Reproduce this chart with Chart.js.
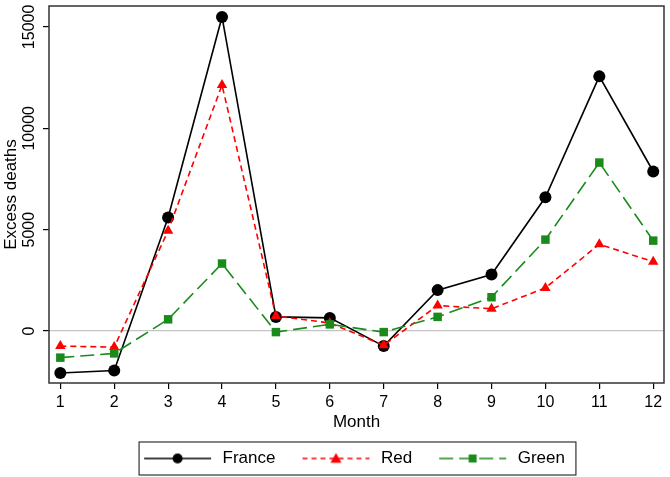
<!DOCTYPE html>
<html>
<head>
<meta charset="utf-8">
<script src="https://cdn.jsdelivr.net/npm/chart.js@4.4.1/dist/chart.umd.min.js"></script>
<style>
  html, body { margin: 0; padding: 0; background: #fff; }
  #wrap { width: 670px; height: 477px; }
</style>
</head>
<body>
<div id="wrap"><canvas id="chart" width="670" height="477"></canvas></div>
<script>
// values
const months = [1, 2, 3, 4, 5, 6, 7, 8, 9, 10, 11, 12];
const france = [-2070, -1940, 5600, 15490, 700, 650, -740, 2020, 2790, 6600, 12560, 7870];
const red = [-740, -790, 4950, 12130, 740, 400, -700, 1260, 1100, 2130, 4280, 3420];
const green = [-1310, -1100, 580, 3330, -50, 330, -50, 700, 1670, 4510, 8310, 4460];
const yTicks = [0, 5000, 10000, 15000];
const seriesNames = ['France', 'Red', 'Green'];

const FONT = "'Liberation Sans', Arial, sans-serif";
const GAP = 17; // blank space before each legend sample

// legend sample: a line with the marker in the middle
function legendSample(color, dash, style, r) {
  const c = document.createElement('canvas');
  c.width = GAP + 67 + 3;
  c.height = 14;
  const g = c.getContext('2d');
  g.strokeStyle = color;
  g.lineWidth = 1.6;
  g.setLineDash(dash);
  g.beginPath();
  g.moveTo(GAP, 7);
  g.lineTo(GAP + 67, 7);
  g.stroke();
  g.setLineDash([]);
  g.fillStyle = color;
  const cx = GAP + 33.5;
  g.beginPath();
  if (style === 'circle') g.arc(cx, 7, r, 0, Math.PI * 2);
  else if (style === 'rect') g.rect(cx - r, 7 - r, 2 * r, 2 * r);
  else { g.moveTo(cx, 7 - r); g.lineTo(cx + r, 7 + r * 0.75); g.lineTo(cx - r, 7 + r * 0.75); g.closePath(); }
  g.fill();
  return c;
}

const samples = [
  legendSample('#000000', [], 'circle', 5),
  legendSample('#ff0000', [5, 4], 'triangle', 5.5),
  legendSample('#1a8a1a', [14, 6], 'rect', 4)
];

const toPoints = vals => months.map((m, i) => ({ x: m, y: vals[i] }));

// box around the plot, rotated y labels, box around the legend
const stataBits = {
  id: 'stataBits',
  afterDraw(chart) {
    const ctx = chart.ctx;
    const a = chart.chartArea;
    const y = chart.scales.y;
    ctx.save();
    ctx.strokeStyle = '#333';
    ctx.lineWidth = 1.5;
    ctx.strokeRect(a.left, a.top, a.right - a.left, a.bottom - a.top);

    ctx.fillStyle = '#000';
    ctx.textAlign = 'center';
    ctx.textBaseline = 'middle';
    ctx.font = '16px ' + FONT;
    yTicks.forEach(v => {
      ctx.save();
      ctx.translate(a.left - 19, y.getPixelForValue(v));
      ctx.rotate(-Math.PI / 2);
      ctx.fillText(String(v), 0, 0);
      ctx.restore();
    });
    ctx.font = '17px ' + FONT;
    ctx.save();
    ctx.translate(a.left - 38, (a.top + a.bottom) / 2);
    ctx.rotate(-Math.PI / 2);
    ctx.fillText('Excess deaths', 0, 0);
    ctx.restore();

    const hb = chart.legend.legendHitBoxes;
    if (hb && hb.length) {
      const last = hb[hb.length - 1];
      const left = hb[0].left + GAP - 5;
      const right = last.left + last.width + 11;
      const top = hb[0].top + hb[0].height / 2 - 16.5;
      ctx.strokeStyle = '#333';
      ctx.lineWidth = 1.2;
      ctx.strokeRect(left, top, right - left, 33);
    }
    ctx.restore();
  }
};

new Chart(document.getElementById('chart').getContext('2d'), {
  type: 'line',
  data: {
    datasets: [
      {
        label: seriesNames[0],
        data: toPoints(france),
        borderColor: '#000000',
        backgroundColor: '#000000',
        borderWidth: 1.6,
        pointStyle: 'circle',
        pointRadius: 6,
        pointBorderWidth: 0,
        order: 3
      },
      {
        label: seriesNames[1],
        data: toPoints(red),
        borderColor: '#ff0000',
        backgroundColor: '#ff0000',
        borderWidth: 1.6,
        borderDash: [6, 4],
        pointStyle: 'triangle',
        pointRadius: 6,
        pointBorderWidth: 0,
        order: 2
      },
      {
        label: seriesNames[2],
        data: toPoints(green),
        borderColor: '#1a8a1a',
        backgroundColor: '#1a8a1a',
        borderWidth: 1.6,
        borderDash: [14, 6],
        pointStyle: 'rect',
        pointRadius: 6,
        pointBorderWidth: 0,
        order: 1
      }
    ]
  },
  options: {
    responsive: false,
    animation: false,
    events: [],
    layout: { padding: { left: 26, right: 4, top: 4, bottom: 0 } },
    elements: { line: { tension: 0 } },
    plugins: {
      tooltip: { enabled: false },
      legend: {
        display: true,
        position: 'bottom',
        labels: {
          usePointStyle: true,
          pointStyleWidth: GAP + 67 + 3,
          padding: 10,
          color: '#000',
          font: { family: FONT, size: 17 },
          generateLabels: chart => chart.data.datasets.map((ds, i) => ({
            text: ds.label,
            pointStyle: samples[i],
            fillStyle: ds.borderColor,
            strokeStyle: ds.borderColor,
            lineWidth: 0,
            fontColor: '#000',
            hidden: false,
            datasetIndex: i
          }))
        }
      }
    },
    scales: {
      x: {
        type: 'linear',
        min: 0.79,
        max: 12.2,
        afterBuildTicks: s => { s.ticks = months.map(v => ({ value: v })); },
        afterFit: s => { s.height = 57; },
        border: { display: false },
        grid: { drawOnChartArea: false, tickLength: 6, tickColor: '#000', lineWidth: 1.2 },
        ticks: { color: '#000', padding: 4, font: { family: FONT, size: 16 }, maxRotation: 0 },
        title: { display: true, text: 'Month', color: '#000', font: { family: FONT, size: 17 }, padding: { top: 0, bottom: 7 } }
      },
      y: {
        min: -2560,
        max: 16030,
        afterBuildTicks: s => { s.ticks = yTicks.map(v => ({ value: v })); },
        afterFit: s => { s.width = 23; },
        border: { display: false },
        grid: {
          color: ctx => (ctx.tick && ctx.tick.value === 0 ? '#c4c4c4' : 'rgba(0,0,0,0)'),
          tickColor: '#000',
          tickLength: 6,
          lineWidth: 1.2
        },
        ticks: { display: false }
      }
    }
  },
  plugins: [stataBits]
});
</script>
</body>
</html>
